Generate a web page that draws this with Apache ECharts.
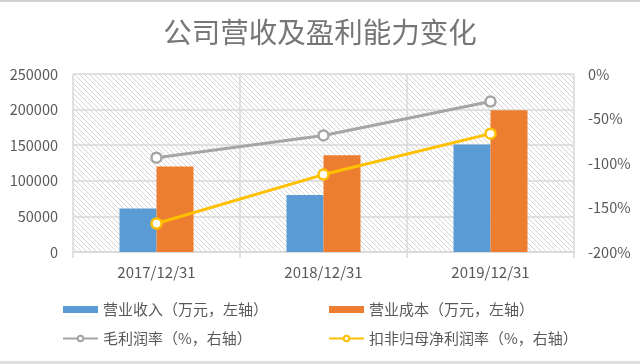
<!DOCTYPE html>
<html><head><meta charset="utf-8">
<style>html,body{margin:0;padding:0;background:#fff}#c{width:640px;height:364px}</style>
<script src="https://cdn.jsdelivr.net/npm/echarts@6/dist/echarts.min.js"></script>
</head><body><div id="c"></div>
<script>
var categories = ['2017/12/31', '2018/12/31', '2019/12/31'];
var revenue = [61000, 80000, 151000];
var cost = [120000, 136000, 199000];
var grossMargin = [-94, -69, -31];
var netMargin = [-168, -113, -67];
var leftTicks = { min: 0, max: 250000, interval: 50000 };
var rightTicks = { min: -200, max: 0, interval: 50 };

var pc = document.createElement('canvas');
pc.width = 5; pc.height = 5;
var g = pc.getContext('2d');
g.strokeStyle = '#d0d0d0'; g.lineWidth = 0.9;
g.beginPath();
g.moveTo(-1, -1); g.lineTo(6, 6);
g.moveTo(-1, 4); g.lineTo(1, 6);
g.moveTo(4, -1); g.lineTo(6, 1);
g.stroke();

var font = '"Noto Sans CJK SC", "Noto Sans", sans-serif';
var legendText = { fontSize: 15, color: '#595959', fontFamily: font };
var chart = echarts.init(document.getElementById('c'));
chart.setOption({
  animation: false,
  textStyle: { fontFamily: font },
  title: {
    text: '公司营收及盈利能力变化', left: 'center', top: 13,
    textStyle: { fontSize: 28.5, fontWeight: 'normal', color: '#767676', fontFamily: font }
  },
  graphic: [
    { type: 'rect', shape: { x: 0, y: 0, width: 640, height: 2 }, style: { fill: '#d0d0d0' } },
    { type: 'rect', shape: { x: 0, y: 361, width: 640, height: 3 }, style: { fill: '#e0e0e0' } }
  ],
  grid: {
    left: 73, right: 66, top: 74, bottom: 112, show: true,
    backgroundColor: { image: pc, repeat: 'repeat' }, borderWidth: 0
  },
  legend: [
    {
      left: 57, top: 297, orient: 'vertical', itemGap: 14, itemWidth: 35, itemHeight: 7, itemTextGap: 4,
      textStyle: legendText,
      data: [{ name: '营业收入（万元，左轴）', icon: 'rect' }, { name: '毛利润率（%，右轴）' }]
    },
    {
      left: 323, top: 297, orient: 'vertical', itemGap: 14, itemWidth: 35, itemHeight: 7, itemTextGap: 4,
      textStyle: legendText,
      data: [{ name: '营业成本（万元，左轴）', icon: 'rect' }, { name: '扣非归母净利润率（%，右轴）' }]
    }
  ],
  xAxis: {
    type: 'category', data: categories, boundaryGap: true,
    axisLine: { lineStyle: { color: '#d9d9d9', width: 1.5 } },
    axisTick: { show: true, length: 6, lineStyle: { color: '#d9d9d9', width: 1.5 } },
    splitLine: { show: true, lineStyle: { color: '#d9d9d9', width: 1.5 } },
    axisLabel: { fontSize: 15, color: '#595959', margin: 13 }
  },
  yAxis: [
    {
      type: 'value', min: leftTicks.min, max: leftTicks.max, interval: leftTicks.interval,
      axisLine: { show: false }, axisTick: { show: false },
      splitLine: { lineStyle: { color: '#d9d9d9', width: 1.5 } },
      axisLabel: { fontSize: 14.5, color: '#595959', margin: 15, formatter: function (v) { return String(v); } }
    },
    {
      type: 'value', min: rightTicks.min, max: rightTicks.max, interval: rightTicks.interval,
      axisLine: { show: false }, axisTick: { show: false }, splitLine: { show: false },
      axisLabel: { fontSize: 14.5, color: '#595959', margin: 14, formatter: '{value}%' }
    }
  ],
  series: [
    { name: '营业收入（万元，左轴）', type: 'bar', data: revenue, barWidth: 37, barGap: '0%', itemStyle: { color: '#5b9bd5' } },
    { name: '营业成本（万元，左轴）', type: 'bar', data: cost, barWidth: 37, barGap: '0%', itemStyle: { color: '#ed7d31' } },
    {
      name: '毛利润率（%，右轴）', type: 'line', yAxisIndex: 1, data: grossMargin,
      symbol: 'circle', symbolSize: 10, showAllSymbol: true,
      lineStyle: { color: '#a5a5a5', width: 3 },
      itemStyle: { color: '#ffffff', borderColor: '#a5a5a5', borderWidth: 2.5 }
    },
    {
      name: '扣非归母净利润率（%，右轴）', type: 'line', yAxisIndex: 1, data: netMargin,
      symbol: 'circle', symbolSize: 10, showAllSymbol: true,
      lineStyle: { color: '#ffc000', width: 3 },
      itemStyle: { color: '#ffffff', borderColor: '#ffc000', borderWidth: 2.5 }
    }
  ]
});
</script></body></html>
